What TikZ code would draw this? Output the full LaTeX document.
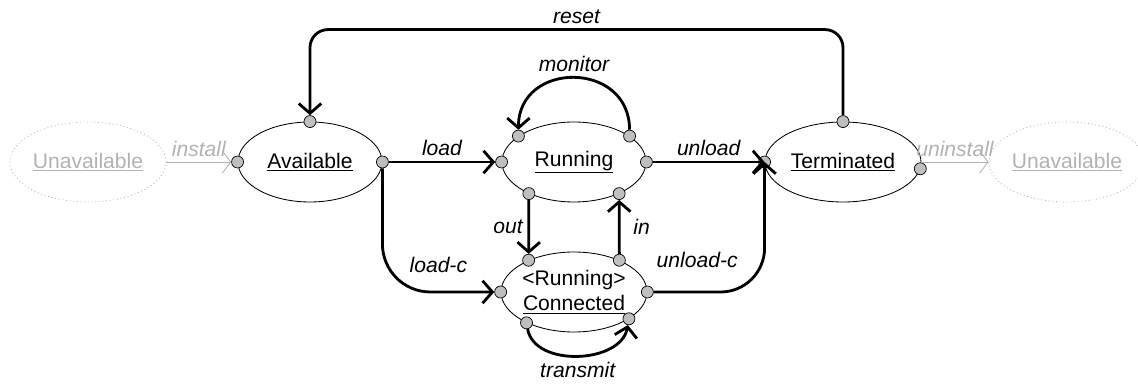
\documentclass[tikz,border=0pt]{standalone}
\usepackage{fontspec}
\setmainfont{Liberation Sans}
\usetikzlibrary{arrows.meta,positioning,shapes.geometric}

\begin{document}
\begin{tikzpicture}[font=\fontsize{15}{18}\selectfont,
  phase/.style={ellipse, draw, line width=0.6pt, inner sep=0pt, minimum width=3.6cm, minimum height=2cm, align=center},
  gone/.style={phase, draw=black!30, dotted, text=black!30},
  port/.style={circle, draw, line width=0.5pt, fill=black!25, inner sep=0pt, minimum size=0.3cm},
  trans/.style={line width=2pt, -{Straight Barb[length=7pt,width=16pt]}},
  fade/.style={draw=black!30, line width=0.6pt, -{Straight Barb[length=6pt,width=16pt]}},
  lbl/.style={font=\fontsize{15}{18}\selectfont\itshape}]
          \useasboundingbox (-7.75,4.05) rectangle (20.7,-5.625);
          \node[phase] (avail) at (0,0) {\underline{Available}};
          \node[gone, minimum width=3.9cm] (unavL) [node distance=5.55cm, left of=avail] {\underline{Unavailable}};
          \node[phase] (run) [node distance=6.6cm, right of=avail] {\underline{Running}};
          \node[phase, minimum width=3.9cm] (term) [node distance=6.725cm, right of=run] {\underline{Terminated}};
          \node[gone, minimum width=3.9cm] (unavR) [node distance=5.6cm, right of=term] {\underline{Unavailable}};
          \node[phase, minimum width=3.625cm] (conn) [node distance=3.25cm, below of=run] {<Running>\\\underline{Connected}};
          % ports
          \node[port] (availW) at (avail.180) {};
          \node[port] (availN) at (avail.90) {};
          \node[port] (availE) at (avail.0) {};
          \node[port] (runW) at (run.180) {};
          \node[port] (runE) at (run.0) {};
          \node[port] (runNW) at (run.155) {};
          \node[port] (runNE) at (run.25) {};
          \node[port] (runSW) at (run.215) {};
          \node[port] (runSE) at (run.325) {};
          \node[port] (connW) at (conn.180) {};
          \node[port] (connE) at (conn.0) {};
          \node[port] (connNW) at (conn.145) {};
          \node[port] (connNE) at (conn.35) {};
          \node[port] (connSW) at (conn.213) {};
          \node[port] (connSE) at (conn.334) {};
          \node[port] (termW) at (term.180) {};
          \node[port] (termN) at (term.90) {};
          \node[port] (termE) at (term.355) {};
          % transitions
          \path[fade]
          (unavL) edge node[lbl, above, text=black!30]{install} (availW)
          (term) edge node[lbl, above, text=black!30]{uninstall} (unavR);
          \path[trans]
          (availE) edge node[lbl, above]{load} (runW)
          (runE) edge node[lbl, above]{unload} (term.west)
          (runNE) edge[out=90, in=90, looseness=1.6] node[lbl, above]{monitor} (runNW)
          (runSW) edge node[lbl, left]{out} (connNW)
          (connNE) edge node[lbl, right, xshift=0.2cm]{in} (runSE)
          (connSW) edge[out=-80, in=-100, looseness=1.0] node[lbl, below]{transmit} (connSE);
          \draw[trans, rounded corners=1.2cm] (availE) |- node[lbl, above, pos=0.75, yshift=0.33cm]{load-c} (connW);
          \draw[trans, rounded corners=1.1cm] (connE) -| node[lbl, above, pos=0.25, xshift=-0.3cm, yshift=0.45cm]{unload-c} (term.west);
          \draw[trans, rounded corners=0.45cm] (termN) -- ++(0,2.3) -| node[lbl, above, pos=0.25]{reset} (availN);
        \end{tikzpicture}
\end{document}
